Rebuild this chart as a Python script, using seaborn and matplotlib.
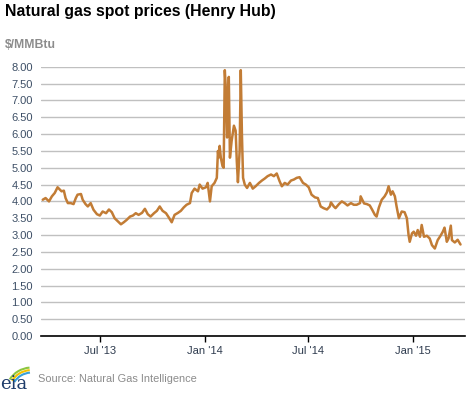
import pandas as pd
import matplotlib.pyplot as plt
from matplotlib.patches import Arc
import seaborn as sns

sns.set_theme(style="whitegrid")
plt.rcParams['font.family'] = ['Liberation Sans', 'DejaVu Sans']

# Prezzi spot Henry Hub
dates = [
    '2013-03-23', '2013-03-28', '2013-04-03', '2013-04-08', '2013-04-13', '2013-04-18',
    '2013-04-22', '2013-04-25', '2013-04-29', '2013-05-02', '2013-05-06', '2013-05-11',
    '2013-05-16', '2013-05-20', '2013-05-23', '2013-05-29', '2013-06-01', '2013-06-06',
    '2013-06-10', '2013-06-15', '2013-06-20', '2013-06-26', '2013-07-01', '2013-07-06',
    '2013-07-12', '2013-07-17', '2013-07-22', '2013-07-27', '2013-08-02', '2013-08-07',
    '2013-08-12', '2013-08-17', '2013-08-23', '2013-08-28', '2013-09-02', '2013-09-07',
    '2013-09-13', '2013-09-18', '2013-09-23', '2013-09-28', '2013-10-04', '2013-10-09',
    '2013-10-14', '2013-10-19', '2013-10-25', '2013-10-30', '2013-11-04', '2013-11-09',
    '2013-11-15', '2013-11-20', '2013-11-25', '2013-11-30', '2013-12-06', '2013-12-09',
    '2013-12-14', '2013-12-20', '2013-12-23', '2013-12-28', '2014-01-03', '2014-01-06',
    '2014-01-10', '2014-01-13', '2014-01-18', '2014-01-22', '2014-01-24', '2014-01-25',
    '2014-01-27', '2014-01-29', '2014-02-01', '2014-02-03', '2014-02-05', '2014-02-07',
    '2014-02-09', '2014-02-10', '2014-02-12', '2014-02-14', '2014-02-17', '2014-02-21',
    '2014-02-24', '2014-02-26', '2014-02-28', '2014-03-03', '2014-03-05', '2014-03-07',
    '2014-03-09', '2014-03-12', '2014-03-16', '2014-03-21', '2014-03-26', '2014-03-31',
    '2014-04-06', '2014-04-11', '2014-04-16', '2014-04-21', '2014-04-27', '2014-05-02',
    '2014-05-07', '2014-05-12', '2014-05-16', '2014-05-21', '2014-05-26', '2014-06-01',
    '2014-06-06', '2014-06-11', '2014-06-16', '2014-06-22', '2014-06-27', '2014-07-02',
    '2014-07-07', '2014-07-13', '2014-07-18', '2014-07-23', '2014-07-28', '2014-08-03',
    '2014-08-08', '2014-08-10', '2014-08-15', '2014-08-18', '2014-08-24', '2014-08-29',
    '2014-09-03', '2014-09-08', '2014-09-14', '2014-09-19', '2014-09-24', '2014-09-30',
    '2014-10-01', '2014-10-07', '2014-10-12', '2014-10-17', '2014-10-21', '2014-10-26',
    '2014-10-29', '2014-11-02', '2014-11-07', '2014-11-12', '2014-11-16', '2014-11-19',
    '2014-11-23', '2014-11-26', '2014-11-30', '2014-12-03', '2014-12-07', '2014-12-12',
    '2014-12-17', '2014-12-21', '2014-12-24', '2014-12-26', '2014-12-30', '2015-01-02',
    '2015-01-06', '2015-01-09', '2015-01-13', '2015-01-16', '2015-01-20', '2015-01-25',
    '2015-01-30', '2015-02-03', '2015-02-08', '2015-02-13', '2015-02-18', '2015-02-22',
    '2015-02-25', '2015-03-01', '2015-03-04', '2015-03-08', '2015-03-10', '2015-03-15',
    '2015-03-20', '2015-03-25',
]
prices = [
    4.05, 4.10, 4.00, 4.15, 4.25, 4.42,
    4.35, 4.30, 4.32, 4.10, 3.95, 3.95,
    3.92, 4.10, 4.20, 4.22, 4.05, 3.92,
    3.85, 3.95, 3.75, 3.62, 3.58, 3.70,
    3.65, 3.76, 3.68, 3.50, 3.40, 3.32,
    3.38, 3.45, 3.55, 3.58, 3.65, 3.60,
    3.66, 3.78, 3.62, 3.55, 3.65, 3.72,
    3.85, 3.72, 3.65, 3.52, 3.38, 3.60,
    3.66, 3.72, 3.82, 3.90, 3.95, 4.25,
    4.38, 4.30, 4.50, 4.38, 4.42, 4.55,
    4.00, 4.45, 4.55, 4.70, 5.50, 5.30,
    5.65, 5.30, 5.05, 5.00, 7.90, 7.30,
    5.90, 6.30, 7.70, 5.30, 5.80, 6.25,
    6.10, 5.20, 4.57, 5.50, 7.90, 6.00,
    4.70, 4.50, 4.40, 4.55, 4.38, 4.45,
    4.55, 4.62, 4.68, 4.75, 4.80, 4.75,
    4.83, 4.60, 4.45, 4.55, 4.50, 4.62,
    4.65, 4.70, 4.72, 4.55, 4.50, 4.42,
    4.20, 4.12, 4.10, 3.85, 3.80, 3.76,
    3.85, 3.97, 3.85, 3.80, 3.92, 4.00,
    3.95, 3.88, 3.95, 3.90, 3.90, 3.95,
    4.15, 3.94, 3.92, 3.88, 3.76, 3.60,
    3.55, 3.82, 4.05, 4.15, 4.27, 4.45,
    4.20, 4.30, 4.15, 3.85, 3.50, 3.70,
    3.68, 3.50, 3.00, 2.80, 3.05, 3.10,
    2.98, 3.15, 2.95, 3.30, 2.95, 2.98,
    2.90, 2.70, 2.60, 2.85, 2.98, 3.10,
    3.22, 2.80, 2.90, 3.28, 2.85, 2.78,
    2.86, 2.72,
]
tick_dates = ['2013-07-01', '2014-01-01', '2014-07-01', '2015-01-01']
tick_labels = ["Jul '13", "Jan '14", "Jul '14", "Jan '15"]
y_ticks = [0, 0.5, 1, 1.5, 2, 2.5, 3, 3.5, 4, 4.5, 5, 5.5, 6, 6.5, 7, 7.5, 8]

df = pd.DataFrame({'data': pd.to_datetime(dates), 'prezzo': prices})

fig = plt.figure(figsize=(4.77, 3.93), dpi=100)
ax = fig.add_axes([0.086, 0.145, 0.889, 0.685])

sns.lineplot(data=df, x='data', y='prezzo', ax=ax, color='#c27c35', linewidth=1.8)

ax.set_xlim(pd.Timestamp('2013-03-20'), pd.Timestamp('2015-04-02'))
ax.set_ylim(0, 8)
ax.set_yticks(y_ticks)
ax.set_yticklabels([f'{v:.2f}' for v in y_ticks])
ax.set_xticks(pd.to_datetime(tick_dates))
ax.set_xticklabels(tick_labels)
ax.set_xlabel('')
ax.set_ylabel('')

ax.set_facecolor('white')
ax.grid(axis='y', color='#c0c0c0', linewidth=1)
ax.grid(axis='x', visible=False)
for s in ['left', 'right', 'top']:
    ax.spines[s].set_visible(False)
ax.spines['bottom'].set_color('black')
ax.spines['bottom'].set_linewidth(1.2)
ax.tick_params(axis='y', length=0, labelsize=8, labelcolor='#3d4f66', pad=6)
ax.tick_params(axis='x', length=4, width=1, color='black', direction='out',
               labelsize=8, labelcolor='#2e3b4e', pad=3, bottom=True)

# Titolo, unità e fonte
fig.text(0.010, 0.990, 'Natural gas spot prices (Henry Hub)', fontsize=11.4,
         fontweight='bold', color='black', va='top')
fig.text(0.010, 0.900, '$/MMBtu', fontsize=8.8, fontweight='bold', color='#8c8c8c', va='top')
fig.text(0.08, 0.022, 'Source: Natural Gas Intelligence', fontsize=7.9, color='#8c8c8c', va='bottom')

# Logo eia
fig.text(0.0, 0.0, 'eia', fontsize=13, color='#1f3d6b', family='DejaVu Serif', va='bottom')
logo = fig.add_axes([0.0, 0.0, 0.07, 0.08])
logo.set_xlim(0, 1)
logo.set_ylim(0, 1)
logo.axis('off')
logo.patch.set_alpha(0)
for r, c in zip([0.95, 0.85, 0.75], ['#8cc63f', '#f2c200', '#3aa0d8']):
    logo.add_patch(Arc((0.95, 0.05), r * 1.6, r * 1.6, theta1=95, theta2=150, color=c, linewidth=1.5))

fig.savefig('out.png', dpi=100)
